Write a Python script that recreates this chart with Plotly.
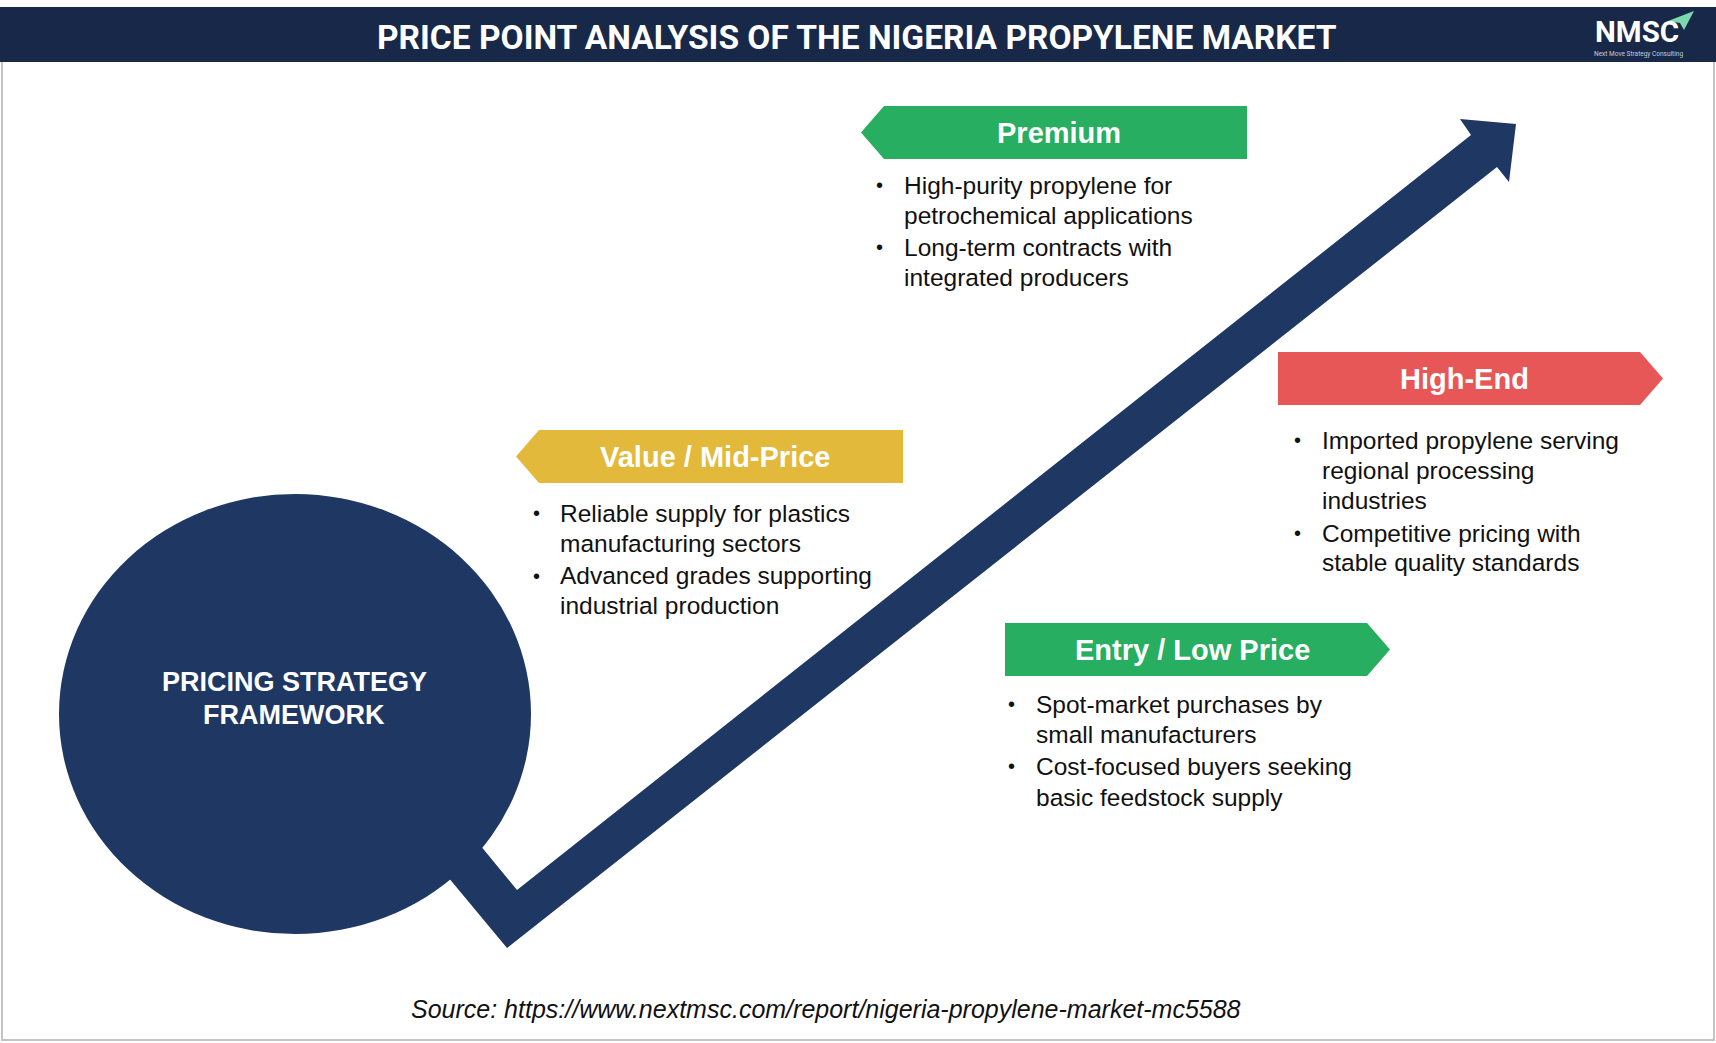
import plotly.graph_objects as go

# ---- content ----
title = "PRICE POINT ANALYSIS OF THE NIGERIA PROPYLENE MARKET"
center_label = ["PRICING STRATEGY", "FRAMEWORK"]
tiers = ["Premium", "Value / Mid-Price", "High-End", "Entry / Low Price"]
tier_colors = ["#27AE60", "#E2B93B", "#E85757", "#27AE60"]
tier_bullets = [
    [["High-purity propylene for", "petrochemical applications"],
     ["Long-term contracts with", "integrated producers"]],
    [["Reliable supply for plastics", "manufacturing sectors"],
     ["Advanced grades supporting", "industrial production"]],
    [["Imported propylene serving", "regional processing", "industries"],
     ["Competitive pricing with", "stable quality standards"]],
    [["Spot-market purchases by", "small manufacturers"],
     ["Cost-focused buyers seeking", "basic feedstock supply"]],
]
logo_text = "NMSC"
logo_sub = "Next Move Strategy Consulting"
source = "Source: https://www.nextmsc.com/report/nigeria-propylene-market-mc5588"

# ---- layout (pixel canvas) ----
W, H = 1716, 1043
NAVY = "#1F3763"
HEADER = "#182848"
FONT = "Liberation Sans, Arial, sans-serif"

tabs = [
    dict(x0=861, x1=1247, y0=106, y1=159, point="left", tx=1059),
    dict(x0=516, x1=903, y0=430, y1=483, point="left", tx=715),
    dict(x0=1278, x1=1663, y0=352, y1=405, point="right", tx=1464),
    dict(x0=1005, x1=1390, y0=623, y1=676, point="right", tx=1192),
]
tip = 23
lists = [
    dict(bx=879, tx=902, ys=[185, 215.5, 247, 277]),
    dict(bx=536, tx=558, ys=[513, 543, 575.5, 605]),
    dict(bx=1297, tx=1320, ys=[440, 470.5, 500, 533, 562.5]),
    dict(bx=1011, tx=1034, ys=[704, 734, 766, 797]),
]

fig = go.Figure()
shapes = []
ann = []

# header bar + frame
shapes.append(dict(type="rect", x0=-2, x1=W + 2, y0=7, y1=62, fillcolor=HEADER, line_width=0))
shapes.append(dict(type="path", path=f"M 2,62 L 2,1040 L 1714,1040 L 1714,62",
                   line=dict(color="#C4C4C4", width=2)))
ann.append(dict(x=857, y=37, text=f"<b>{title}</b>", showarrow=False,
                font=dict(family="Roboto, sans-serif", size=33.5, color="white")))

# logo
ann.append(dict(x=1637, y=32, text=f"<b>{logo_text}</b>", showarrow=False,
                font=dict(family="Roboto, sans-serif", size=29.5, color="white")))
ann.append(dict(x=1638, y=54, text=logo_sub, showarrow=False,
                font=dict(family="Roboto, sans-serif", size=6.5, color="#C8CCD6")))
shapes.append(dict(type="path", path="M 1668,21 L 1694,11 L 1684,30 L 1680,23 Z",
                   fillcolor="#7DD8AE", line_width=0))

# circle
shapes.append(dict(type="circle", x0=59, x1=531, y0=494, y1=934, fillcolor=NAVY, line_width=0))
for i, line in enumerate(center_label):
    ann.append(dict(x=294, y=682 + 33 * i, text=f"<b>{line}</b>", showarrow=False,
                    font=dict(family=FONT, size=27, color="white")))

# zig-zag arrow
arrow = [(466, 828), (517, 890), (1471, 135), (1460, 119), (1516, 124),
         (1509, 182), (1497, 167), (507, 948), (443, 871)]
shapes.append(dict(type="path",
                   path="M " + " L ".join(f"{x},{y}" for x, y in arrow) + " Z",
                   fillcolor=NAVY, line_width=0))

# tier tabs
for name, color, t in zip(tiers, tier_colors, tabs):
    x0, x1, y0, y1 = t["x0"], t["x1"], t["y0"], t["y1"]
    ym = (y0 + y1) / 2
    if t["point"] == "left":
        p = f"M {x0},{ym} L {x0 + tip},{y0} L {x1},{y0} L {x1},{y1} L {x0 + tip},{y1} Z"
    else:
        p = f"M {x0},{y0} L {x1 - tip},{y0} L {x1},{ym} L {x1 - tip},{y1} L {x0},{y1} Z"
    shapes.append(dict(type="path", path=p, fillcolor=color, line_width=0))
    ann.append(dict(x=t["tx"], y=ym, text=f"<b>{name}</b>", showarrow=False,
                    font=dict(family=FONT, size=29, color="white")))

# bullet text
for items, pos in zip(tier_bullets, lists):
    k = 0
    for item in items:
        for j, line in enumerate(item):
            y = pos["ys"][k]
            if j == 0:
                ann.append(dict(x=pos["bx"], y=y, text="•", showarrow=False, xanchor="center",
                                font=dict(family=FONT, size=20, color="#111111")))
            ann.append(dict(x=pos["tx"], y=y, text=line, showarrow=False, xanchor="left",
                            font=dict(family=FONT, size=24.5, color="#111111")))
            k += 1

# source
ann.append(dict(x=826, y=1009, text=f"<i>{source}</i>", showarrow=False,
                font=dict(family=FONT, size=25, color="#111111")))

for a in ann:
    a.setdefault("xref", "x")
    a.setdefault("yref", "y")
for s in shapes:
    s.setdefault("xref", "x")
    s.setdefault("yref", "y")
    s.setdefault("layer", "above")

fig.update_layout(
    width=W, height=H,
    margin=dict(l=0, r=0, t=0, b=0),
    paper_bgcolor="white", plot_bgcolor="white",
    xaxis=dict(range=[0, W], visible=False, fixedrange=True),
    yaxis=dict(range=[H, 0], visible=False, fixedrange=True),
    shapes=shapes, annotations=ann, showlegend=False,
)

fig.write_html("out.html", config={"displayModeBar": False},
               post_script="document.body.style.margin='0';document.body.style.overflow='hidden';")
